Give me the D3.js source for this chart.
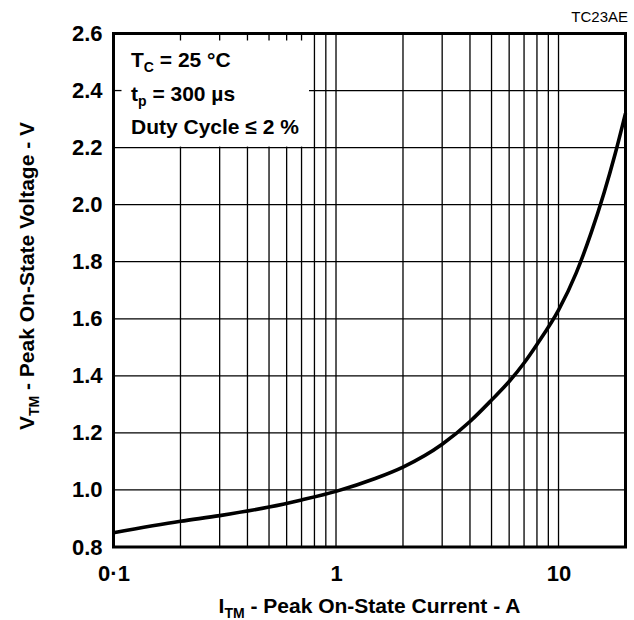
<!DOCTYPE html>
<html><head><meta charset="utf-8">
<script src="https://cdn.jsdelivr.net/npm/d3@7"></script>
<style>
body{margin:0;background:#fff}
svg text{font-family:"Liberation Sans",Arial,Helvetica,sans-serif}
</style>
</head><body>
<svg id="chart" width="634" height="620"></svg>
<script>
// ---- data ----
const currentA = [0.1, 0.2, 0.3, 0.5, 0.7, 1, 1.5, 2, 3, 4, 5, 6, 7, 8, 10, 12, 14, 16, 18, 20];
const voltageV = [0.85, 0.89, 0.91, 0.94, 0.965, 0.995, 1.04, 1.08, 1.16, 1.24, 1.315, 1.38, 1.445, 1.51, 1.63, 1.76, 1.9, 2.04, 2.18, 2.32];
const xTickValues = [0.1, 1, 10];
const xTickLabels = ["0·1", "1", "10"];
const yTickValues = [0.8, 1.0, 1.2, 1.4, 1.6, 1.8, 2.0, 2.2, 2.4, 2.6];
const yTickLabels = ["0.8", "1.0", "1.2", "1.4", "1.6", "1.8", "2.0", "2.2", "2.4", "2.6"];
const xGridValues = [0.2, 0.3, 0.4, 0.5, 0.6, 0.7, 0.8, 0.9, 1, 2, 3, 4, 5, 6, 7, 8, 9, 10];
const yGridValues = [1.0, 1.2, 1.4, 1.6, 1.8, 2.0, 2.2, 2.4];
const legendMain = ["T", "t", "Duty Cycle ≤ 2 %"];
const legendSub = ["C", "p", ""];
const legendRest = [" = 25 °C", " = 300 µs", ""];
const figureCode = "TC23AE";
const xTitle = ["I", "TM", " - Peak On-State Current - A"];
const yTitle = ["V", "TM", " - Peak On-State Voltage - V"];

// ---- layout ----
const L = 113.5, R = 625.5, T = 33.5, B = 547;
const svg = d3.select("#chart");
const x = d3.scaleLog().domain([0.1, 20]).range([L, R]);
const y = d3.scaleLinear().domain([0.8, 2.6]).range([B, T]);

// grid
const grid = svg.append("g").attr("stroke", "#000").attr("stroke-width", 1.3);
grid.selectAll(".vx").data(xGridValues).join("line")
  .attr("x1", d => x(d)).attr("x2", d => x(d)).attr("y1", T).attr("y2", B);
grid.selectAll(".hy").data(yGridValues).join("line")
  .attr("x1", L).attr("x2", R).attr("y1", d => y(d)).attr("y2", d => y(d));

// legend box (white) covering grid
const boxRight = 309, boxBottom = y(2.2) - 1;
svg.append("rect").attr("x", L).attr("y", T).attr("width", boxRight - L).attr("height", boxBottom - T).attr("fill", "#fff");
const inBox = xGridValues.filter(v => x(v) < boxRight);
const tk = svg.append("g").attr("stroke", "#000").attr("stroke-width", 1.3);
tk.selectAll("line.t").data(inBox).join("line")
  .attr("x1", d => x(d)).attr("x2", d => x(d)).attr("y1", T).attr("y2", T + 7);
tk.append("line").attr("x1", L).attr("x2", L + 8).attr("y1", y(2.4)).attr("y2", y(2.4));

// curve
const line = d3.line().x((d, i) => x(currentA[i])).y(d => y(d)).curve(d3.curveMonotoneX);
svg.append("path").datum(voltageV).attr("d", line)
  .attr("fill", "none").attr("stroke", "#000").attr("stroke-width", 3.6).attr("stroke-linejoin", "round");

// border
svg.append("rect").attr("x", L).attr("y", T).attr("width", R - L).attr("height", B - T)
  .attr("fill", "none").attr("stroke", "#000").attr("stroke-width", 3);

// axes
const yAxis = d3.axisLeft(y).tickValues(yTickValues).tickSize(0).tickPadding(11)
  .tickFormat((d, i) => yTickLabels[i]);
const gy = svg.append("g").attr("transform", `translate(${L},0)`).call(yAxis);
gy.select(".domain").remove();
gy.selectAll("text").attr("font-size", 22).attr("font-weight", "bold").attr("fill", "#000")
  .style("font-family", '"Liberation Sans",Arial,sans-serif');

const xAxis = d3.axisBottom(x).tickValues(xTickValues).tickSize(0).tickPadding(18)
  .tickFormat((d, i) => xTickLabels[i]);
const gx = svg.append("g").attr("transform", `translate(0,${B})`).call(xAxis);
gx.select(".domain").remove();
gx.selectAll("text").attr("font-size", 22).attr("font-weight", "bold").attr("fill", "#000")
  .style("font-family", '"Liberation Sans",Arial,sans-serif');

// legend text
const legendBase = [67, 101, 134];
legendMain.forEach((m, i) => {
  const t = svg.append("text").attr("x", 131).attr("y", legendBase[i])
    .attr("font-size", 21).attr("font-weight", "bold").attr("fill", "#000");
  t.append("tspan").text(m);
  if (legendSub[i]) {
    t.append("tspan").attr("font-size", 14).attr("dy", 5).text(legendSub[i]);
    t.append("tspan").attr("dy", -5).text(legendRest[i]);
  }
});

// figure code
svg.append("text").attr("x", 628).attr("y", 22).attr("text-anchor", "end")
  .attr("font-size", 15).attr("fill", "#000").text(figureCode);

// axis titles
function title(g, parts) {
  g.append("tspan").text(parts[0]);
  g.append("tspan").attr("font-size", 14).attr("dy", 5).text(parts[1]);
  g.append("tspan").attr("dy", -5).text(parts[2]);
}
const xt = svg.append("text").attr("x", (L + R) / 2).attr("y", 613).attr("text-anchor", "middle")
  .attr("font-size", 21).attr("font-weight", "bold").attr("fill", "#000");
title(xt, xTitle);
const yt = svg.append("text").attr("transform", `translate(34,276) rotate(-90)`).attr("text-anchor", "middle")
  .attr("font-size", 21).attr("font-weight", "bold").attr("fill", "#000");
title(yt, yTitle);
</script>
</body></html>
